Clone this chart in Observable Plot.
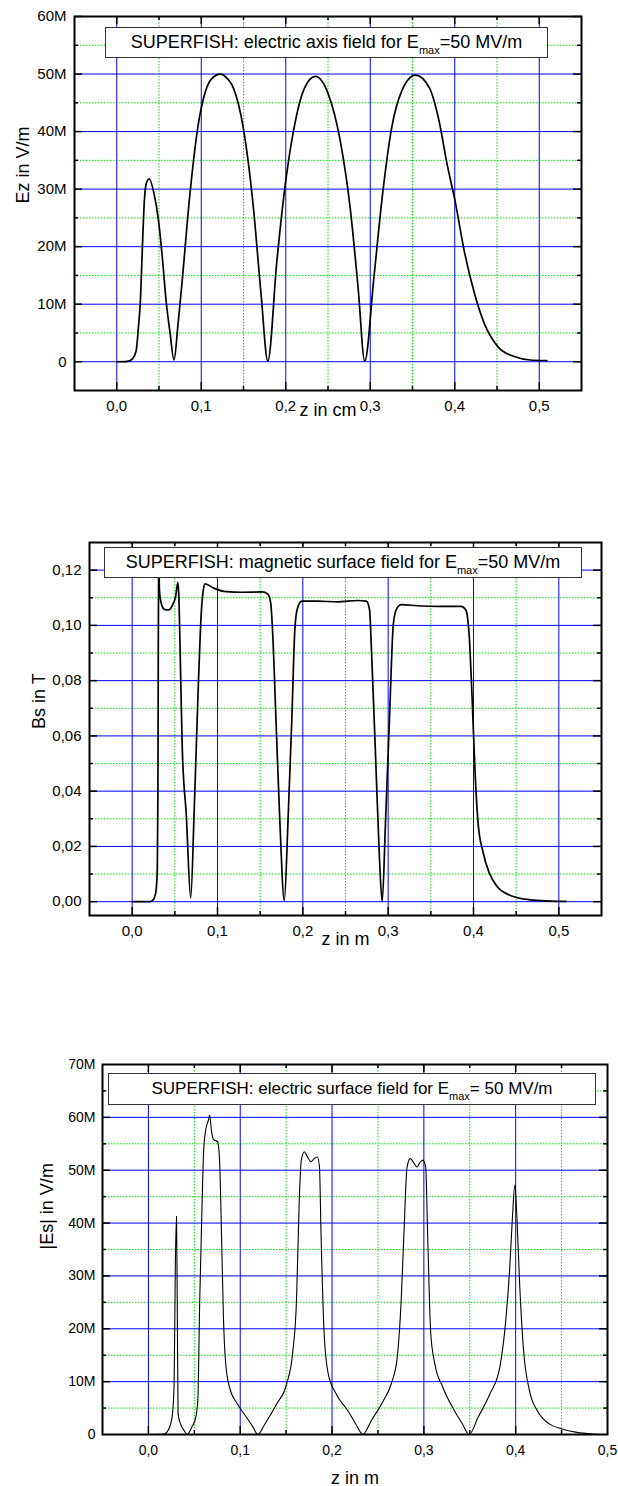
<!DOCTYPE html>
<html><head><meta charset="utf-8">
<script src="https://cdn.jsdelivr.net/npm/d3@7"></script>
<script src="https://cdn.jsdelivr.net/npm/@observablehq/plot@0.6"></script>
<style>
body{margin:0;background:#fff;font-family:"Liberation Sans",Arial,sans-serif;}
#wrap{position:relative;width:618px;height:1486px;overflow:hidden;background:#fff;}
.chart{position:absolute;left:0;}
.legend{position:absolute;background:#fff;border:1.5px solid #333;box-sizing:border-box;color:#000;white-space:nowrap;display:flex;align-items:center;justify-content:center;font-family:"Liberation Sans",Arial,sans-serif;}
.legend .sub{font-size:11px;position:relative;top:7px;}
</style></head><body><div id="wrap"></div>
<script>
// ---------- Chart 1: electric axis field (z in m, Ez in V/m) ----------
const ezZ = [0, 0.010, 0.014, 0.0185, 0.023, 0.0256, 0.028, 0.0303, 0.0327, 0.035, 0.0383, 0.0444, 0.049, 0.0537, 0.0584, 0.0631, 0.0678,
  0.0725, 0.0771, 0.0865, 0.0959, 0.105, 0.113, 0.1226, 0.131, 0.138, 0.1497, 0.1617, 0.1708, 0.1788,
  0.1895, 0.199, 0.2107, 0.2223, 0.235, 0.2504, 0.2645, 0.2762, 0.2856, 0.2935,
  0.3043, 0.3137, 0.3254, 0.3371, 0.3535, 0.37, 0.3815, 0.391, 0.4003, 0.412, 0.4237, 0.4354, 0.4518, 0.4705, 0.4892, 0.509];
const ezV = [0, 0.02e6, 0.1e6, 0.5e6, 1.9e6, 5.9e6, 10.6e6, 19.8e6, 28e6, 31e6, 31.8e6, 29e6, 25e6, 18.5e6, 10.6e6, 5e6, 0.3e6,
  6.5e6, 13.5e6, 29e6, 40.7e6, 47e6, 49.3e6, 50e6, 49.2e6, 47.6e6, 40.7e6, 26.8e6, 11.7e6, 0.1e6,
  17.5e6, 30.3e6, 41.3e6, 47.6e6, 49.6e6, 46.5e6, 38.4e6, 26.8e6, 12.9e6, 0.1e6,
  14.6e6, 28e6, 40.7e6, 47e6, 49.8e6, 47.6e6, 41.8e6, 34.3e6, 28e6, 18.7e6, 11.7e6, 6.5e6, 2.5e6, 0.9e6, 0.3e6, 0.2e6];
const ezXMajor = [0, 0.1, 0.2, 0.3, 0.4, 0.5];
const ezXMinor = [0.05, 0.15, 0.25, 0.35, 0.45];
const ezYMajor = [0, 10e6, 20e6, 30e6, 40e6, 50e6];
const ezYMinor = [5e6, 15e6, 25e6, 35e6, 45e6, 55e6];
const ezYLabels = [0, 10e6, 20e6, 30e6, 40e6, 50e6, 60e6];

// ---------- Chart 2: magnetic surface field (z in m, Bs in T) ----------
const bsZ = [0, 0.02, 0.0238, 0.0275, 0.0295, 0.0302, 0.0306, 0.0309, 0.0313, 0.0319, 0.0345, 0.0378, 0.0429, 0.0475, 0.051, 0.0535, 0.0545, 0.0566, 0.0587, 0.0635, 0.0686,
  0.0728, 0.0775, 0.0812, 0.0835, 0.0854, 0.0961, 0.1101, 0.1288, 0.1522, 0.1591, 0.1624, 0.1647, 0.1685, 0.1732, 0.1783,
  0.1825, 0.1871, 0.1904, 0.1932, 0.1988, 0.2175, 0.2408, 0.2642, 0.2744, 0.2782, 0.2805, 0.2852, 0.2898, 0.293,
  0.2968, 0.3015, 0.3061, 0.3099, 0.3155, 0.3341, 0.3575, 0.3855, 0.391, 0.3948, 0.3986, 0.4018, 0.4055, 0.4111, 0.4182, 0.4274, 0.4415, 0.4601, 0.4788, 0.5082];
const bsV = [0, 0, 0.0004, 0.003, 0.012, 0.04, 0.09, 0.115, 0.124, 0.1131, 0.1075, 0.1058, 0.1056, 0.1075, 0.1105, 0.1156, 0.112, 0.085, 0.0557, 0.031, 0.0013,
  0.034, 0.078, 0.1056, 0.113, 0.115, 0.1134, 0.1122, 0.112, 0.1121, 0.1113, 0.108, 0.097, 0.066, 0.028, 0.0004,
  0.028, 0.066, 0.097, 0.1056, 0.1088, 0.1088, 0.1085, 0.109, 0.1088, 0.1056, 0.0906, 0.053, 0.0156, 0,
  0.028, 0.066, 0.1006, 0.106, 0.1075, 0.1071, 0.1069, 0.1069, 0.1056, 0.097, 0.072, 0.047, 0.028, 0.018, 0.0106, 0.0056, 0.0025, 0.0009, 0.0004, 0.0001];
const bsXMajor = [0, 0.1, 0.2, 0.3, 0.4, 0.5];
const bsXMinor = [0.05, 0.15, 0.25, 0.35, 0.45];
const bsYMajor = [0, 0.02, 0.04, 0.06, 0.08, 0.10, 0.12];
const bsYMinor = [0.01, 0.03, 0.05, 0.07, 0.09, 0.11];

// ---------- Chart 3: electric surface field (z in m, |Es| in V/m) ----------
const esZ = [0, 0.0172, 0.0215, 0.0258, 0.028, 0.0293, 0.0306, 0.0314, 0.0323, 0.0344, 0.0387, 0.0422,
  0.0473, 0.0516, 0.0538, 0.0559, 0.0581, 0.0602, 0.0624, 0.0654, 0.0667, 0.0688, 0.071, 0.0753, 0.0775, 0.0796, 0.0817, 0.0839, 0.0882, 0.0968, 0.1054, 0.114, 0.1192,
  0.1269, 0.1398, 0.1506, 0.157, 0.1613, 0.1643, 0.1665, 0.1699, 0.1733, 0.1772, 0.1806, 0.1841, 0.1863, 0.188, 0.1914, 0.1958, 0.2044, 0.2172, 0.2258, 0.2335,
  0.243, 0.2559, 0.2645, 0.271, 0.2753, 0.2783, 0.2817, 0.2852, 0.289, 0.2925, 0.2955, 0.2989, 0.302, 0.3041, 0.3075, 0.3119, 0.3205, 0.3333, 0.342, 0.3493,
  0.3592, 0.372, 0.3828, 0.3892, 0.3936, 0.3965, 0.3991, 0.4013, 0.4043, 0.4086, 0.415, 0.4236, 0.4366, 0.4495, 0.4667, 0.4839, 0.4989];
const esV = [0, 0.1e6, 0.8e6, 3.3e6, 9.6e6, 31.7e6, 41.3e6, 25.4e6, 3.9e6, 2.3e6, 0.8e6, 0,
  1.4e6, 3.3e6, 6.4e6, 25.4e6, 41.2e6, 53.8e6, 57.6e6, 59.5e6, 60.4e6, 57.3e6, 55.8e6, 55.4e6, 51.9e6, 38e6, 22.2e6, 14e6, 9e6, 5.8e6, 3.6e6, 1.4e6, 0,
  2e6, 5.8e6, 9.6e6, 15.3e6, 25.4e6, 44.3e6, 51.9e6, 53.5e6, 52.5e6, 51.6e6, 52.2e6, 52.5e6, 50.6e6, 38e6, 19.1e6, 11.5e6, 7.7e6, 4.5e6, 2e6, 0,
  2.7e6, 6.4e6, 9.6e6, 14.6e6, 25.4e6, 38e6, 50.6e6, 52.2e6, 51.4e6, 50.6e6, 51.4e6, 51.9e6, 50.6e6, 38e6, 19.1e6, 13.4e6, 9e6, 4.5e6, 2e6, 0,
  3.3e6, 7.7e6, 12.8e6, 21.6e6, 31.7e6, 41.2e6, 47.2e6, 41.2e6, 28.5e6, 15.9e6, 8.3e6, 4.5e6, 2e6, 1.1e6, 0.4e6, 0.1e6, 0];
const esXMajor = [0, 0.1, 0.2, 0.3, 0.4];
const esXMinor = [0.05, 0.15, 0.25, 0.35, 0.45];
const esXLabels = [0, 0.1, 0.2, 0.3, 0.4, 0.5];
const esYMajor = [10e6, 20e6, 30e6, 40e6, 50e6, 60e6];
const esYMinor = [5e6, 15e6, 25e6, 35e6, 45e6, 55e6, 65e6];
const esYLabels = [0, 10e6, 20e6, 30e6, 40e6, 50e6, 60e6, 70e6];

const commaFmt = (spec) => { const f = d3.format(spec); return d => f(d).replace(".", ","); };
const megaFmt = d => d === 0 ? "0" : Math.round(d / 1e6) + "M";
const FONT = "'Liberation Sans', Arial, sans-serif";

function makeChart(o) {
  const [mt, mr, mb, ml] = o.margins;
  const pw = o.width - ml - mr, ph = o.height - mt - mb;
  const data = o.z.map((d, i) => ({z: d, v: o.v[i]}));
  const tk = (xs, ys, len, sw) => [
    Plot.tickX(xs, {x: d => d, insetTop: ph - len, stroke: "black", strokeWidth: sw}),
    Plot.tickX(xs, {x: d => d, insetBottom: ph - len, stroke: "black", strokeWidth: sw}),
    Plot.tickY(ys, {y: d => d, insetRight: pw - len, stroke: "black", strokeWidth: sw}),
    Plot.tickY(ys, {y: d => d, insetLeft: pw - len, stroke: "black", strokeWidth: sw})
  ];
  return Plot.plot({
    width: o.width, height: o.height,
    marginTop: mt, marginRight: mr, marginBottom: mb, marginLeft: ml,
    style: {fontFamily: FONT, fontSize: o.tickFont + "px", background: "white", color: "black", overflow: "visible"},
    x: {domain: o.xDomain},
    y: {domain: o.yDomain},
    marks: [
      Plot.ruleX(o.xMinor, {stroke: "#00e000", strokeWidth: 1, strokeDasharray: "1.5,1.5"}),
      Plot.ruleY(o.yMinor, {stroke: "#00e000", strokeWidth: 1, strokeDasharray: "1.5,1.5"}),
      Plot.ruleX(o.xMajor, {stroke: "#0000ff", strokeWidth: 1}),
      Plot.ruleY(o.yMajor, {stroke: "#0000ff", strokeWidth: 1}),
      Plot.line(data, {x: "z", y: "v", stroke: "black", strokeWidth: o.lineWidth, curve: "monotone-x"}),
      ...tk(o.xTickMaj, o.yTickMaj, 8, 1.5),
      ...tk(o.xTickMin, o.yTickMin, 4, 1.5),
      Plot.frame({stroke: "black", strokeWidth: 2}),
      Plot.axisX({ticks: o.xLabels, tickSize: 0, tickPadding: o.xPad, tickFormat: o.xFmt, label: null, fontSize: o.tickFont}),
      Plot.axisY({ticks: o.yLabels, tickSize: 0, tickPadding: o.yPad, tickFormat: o.yFmt, label: null, fontSize: o.tickFont}),
      Plot.text([o.xLabel], {text: d => d, frameAnchor: "bottom", lineAnchor: "bottom", dy: o.xLabelOffset, fontSize: o.labelFont, fill: "black"}),
      Plot.text([o.yLabel], {text: d => d, frameAnchor: "left", lineAnchor: "top", rotate: -90, dx: -o.yLabelOffset, fontSize: o.labelFont, fill: "black"})
    ]
  });
}

const wrap = document.getElementById("wrap");
function place(svg, top) {
  const d = document.createElement("div");
  d.className = "chart"; d.style.top = top + "px";
  d.appendChild(svg); wrap.appendChild(d);
}
function legend(html, left, top, w, h, fs) {
  const d = document.createElement("div");
  d.className = "legend";
  Object.assign(d.style, {left: left + "px", top: top + "px", width: w + "px", height: h + "px", fontSize: fs + "px"});
  d.innerHTML = html; wrap.appendChild(d);
}

place(makeChart({
  z: ezZ, v: ezV, width: 618, height: 430, margins: [16, 37, 40, 74],
  xDomain: [-0.05, 0.55], yDomain: [-5e6, 60e6],
  xMajor: ezXMajor, xMinor: ezXMinor, yMajor: ezYMajor, yMinor: ezYMinor,
  xTickMaj: ezXMajor, xTickMin: ezXMinor, yTickMaj: ezYLabels, yTickMin: ezYMinor,
  xLabels: ezXMajor, yLabels: ezYLabels, xFmt: commaFmt(".1f"), yFmt: megaFmt,
  xLabel: "z in cm", yLabel: "Ez in V/m", xLabelOffset: 25, yLabelOffset: 58,
  xPad: 10, yPad: 8, tickFont: 15, labelFont: 18, lineWidth: 1.7
}), 0);

place(makeChart({
  z: bsZ, v: bsV, width: 618, height: 480, margins: [72, 17, 35, 89],
  xDomain: [-0.05, 0.55], yDomain: [-0.005, 0.13],
  xMajor: bsXMajor, xMinor: bsXMinor, yMajor: bsYMajor, yMinor: bsYMinor,
  xTickMaj: bsXMajor, xTickMin: bsXMinor, yTickMaj: bsYMajor, yTickMin: bsYMinor,
  xLabels: bsXMajor, yLabels: bsYMajor, xFmt: commaFmt(".1f"), yFmt: commaFmt(".2f"),
  xLabel: "z in m", yLabel: "Bs in T", xLabelOffset: 29, yLabelOffset: 57,
  xPad: 10, yPad: 8, tickFont: 15, labelFont: 18, lineWidth: 1.7
}), 470);

place(makeChart({
  z: esZ, v: esV, width: 618, height: 486, margins: [64, 11, 52, 102],
  xDomain: [-0.05, 0.5], yDomain: [0, 70e6],
  xMajor: esXMajor, xMinor: esXMinor, yMajor: esYMajor, yMinor: esYMinor,
  xTickMaj: esXMajor, xTickMin: esXMinor, yTickMaj: esYMajor, yTickMin: esYMinor,
  xLabels: esXLabels, yLabels: esYLabels, xFmt: commaFmt(".1f"), yFmt: megaFmt,
  xLabel: "z in m", yLabel: "|Es| in V/m", xLabelOffset: 49, yLabelOffset: 62,
  xPad: 11, yPad: 7, tickFont: 14, labelFont: 18, lineWidth: 1.1
}), 1000);

legend('SUPERFISH: electric axis field for E<span class="sub">max</span>=50 MV/m', 105, 27, 443, 31, 18);
legend('SUPERFISH: magnetic surface field for E<span class="sub">max</span>=50 MV/m', 104, 547, 478, 31, 18);
legend('SUPERFISH: electric surface field for E<span class="sub">max</span>= 50 MV/m', 108, 1073, 488, 32, 17);
</script>
</body></html>
